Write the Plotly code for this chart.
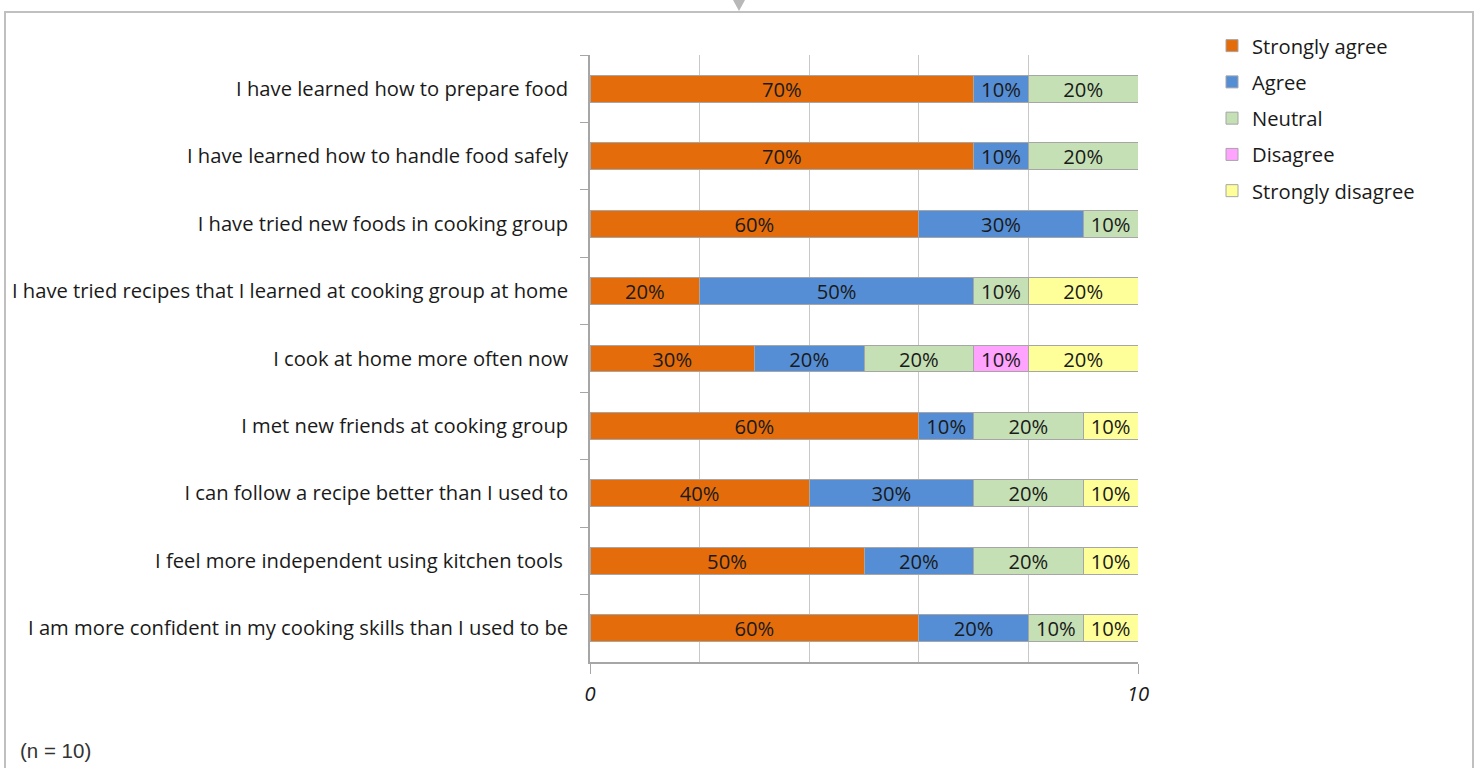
import plotly.graph_objects as go

categories = [
    "I have learned how to prepare food",
    "I have learned how to handle food safely",
    "I have tried new foods in cooking group",
    "I have tried recipes that I learned at cooking group at home",
    "I cook at home more often now",
    "I met new friends at cooking group",
    "I can follow a recipe better than I used to",
    "I feel more independent using kitchen tools ",
    "I am more confident in my cooking skills than I used to be",
]
strongly_agree = [7, 7, 6, 2, 3, 6, 4, 5, 6]
agree = [1, 1, 3, 5, 2, 1, 3, 2, 2]
neutral = [2, 2, 1, 1, 2, 2, 2, 2, 1]
disagree = [0, 0, 0, 0, 1, 0, 0, 0, 0]
strongly_disagree = [0, 0, 0, 2, 2, 1, 1, 1, 1]
n_respondents = 10
x_tick_vals = [0, 10]
x_tick_text = ["0", "10"]

series = [
    ("Strongly agree", strongly_agree, "#E46C0A"),
    ("Agree", agree, "#558ED5"),
    ("Neutral", neutral, "#C4E0B4"),
    ("Disagree", disagree, "#FFA3FF"),
    ("Strongly disagree", strongly_disagree, "#FFFF99"),
]

FONT = "Open Sans"
FS = 20.2
W, H = 1480, 768
L, R, T, B = 590, 1138, 55, 662
pw, ph = R - L, B - T


def px(x):
    return (x - L) / pw


def py(y):
    return (B - y) / ph


fig = go.Figure()
for i, (name, vals, color) in enumerate(series):
    xs = [v if v else None for v in vals]
    txt = [f"{round(v / n_respondents * 100)}%" if v else "" for v in vals]
    fig.add_trace(go.Bar(
        name=name, y=categories, x=xs, orientation="h",
        marker=dict(color=color, line=dict(color="#A6A6A6", width=1)),
        text=txt, textposition="inside", insidetextanchor="middle",
        textangle=0, constraintext="none",
        textfont=dict(family=FONT, size=FS, color="#1a1a1a"),
        legendgroup=name, width=0.4,
    ))

shapes = [
    dict(type="rect", xref="paper", yref="paper",
         x0=px(5), x1=px(1473), y0=py(12), y1=py(800),
         line=dict(color="#C0C0C0", width=2), layer="below"),
    dict(type="path", xref="paper", yref="paper",
         path=f"M {px(733)} {py(0)} L {px(745)} {py(0)} L {px(739)} {py(11)} Z",
         fillcolor="#B8B8B8", line=dict(width=0)),
]

fig.update_layout(
    width=W, height=H,
    margin=dict(l=L, r=W - R, t=T, b=H - B),
    barmode="stack", bargap=0.6,
    plot_bgcolor="white", paper_bgcolor="white",
    font=dict(family=FONT, size=FS, color="#1a1a1a"),
    showlegend=True,
    legend=dict(x=px(1212), y=py(26), xanchor="left", yanchor="top",
                traceorder="grouped", tracegroupgap=7,
                font=dict(family=FONT, size=FS, color="#1a1a1a"),
                bgcolor="rgba(0,0,0,0)"),
    shapes=shapes,
    annotations=[dict(text=f"(n = {n_respondents})", xref="paper", yref="paper",
                      x=px(18), y=py(750), xanchor="left", yanchor="middle",
                      showarrow=False,
                      font=dict(family="Liberation Sans", size=20.5, color="#333"))],
)
fig.update_yaxes(
    autorange="reversed", type="category",
    showline=True, linecolor="#A6A6A6", linewidth=1.5,
    ticks="outside", tickson="boundaries", ticklen=8, tickcolor="#A6A6A6",
    showgrid=False, ticklabelstandoff=16,
    tickfont=dict(family=FONT, size=FS, color="#1a1a1a"),
)
fig.update_xaxes(
    range=[0, 10], tickvals=x_tick_vals, ticktext=x_tick_text,
    showline=True, linecolor="#A6A6A6", linewidth=1.5,
    ticks="outside", ticklen=10, tickcolor="#A6A6A6",
    showgrid=True, gridcolor="#C8C8C8", gridwidth=1,
    minor=dict(dtick=2, showgrid=True, gridcolor="#C8C8C8", gridwidth=1, ticks=""),
    zeroline=False, ticklabelstandoff=3,
    tickfont=dict(family=FONT, size=FS, color="#1a1a1a", style="italic"),
)

fig.write_html("out.html")
